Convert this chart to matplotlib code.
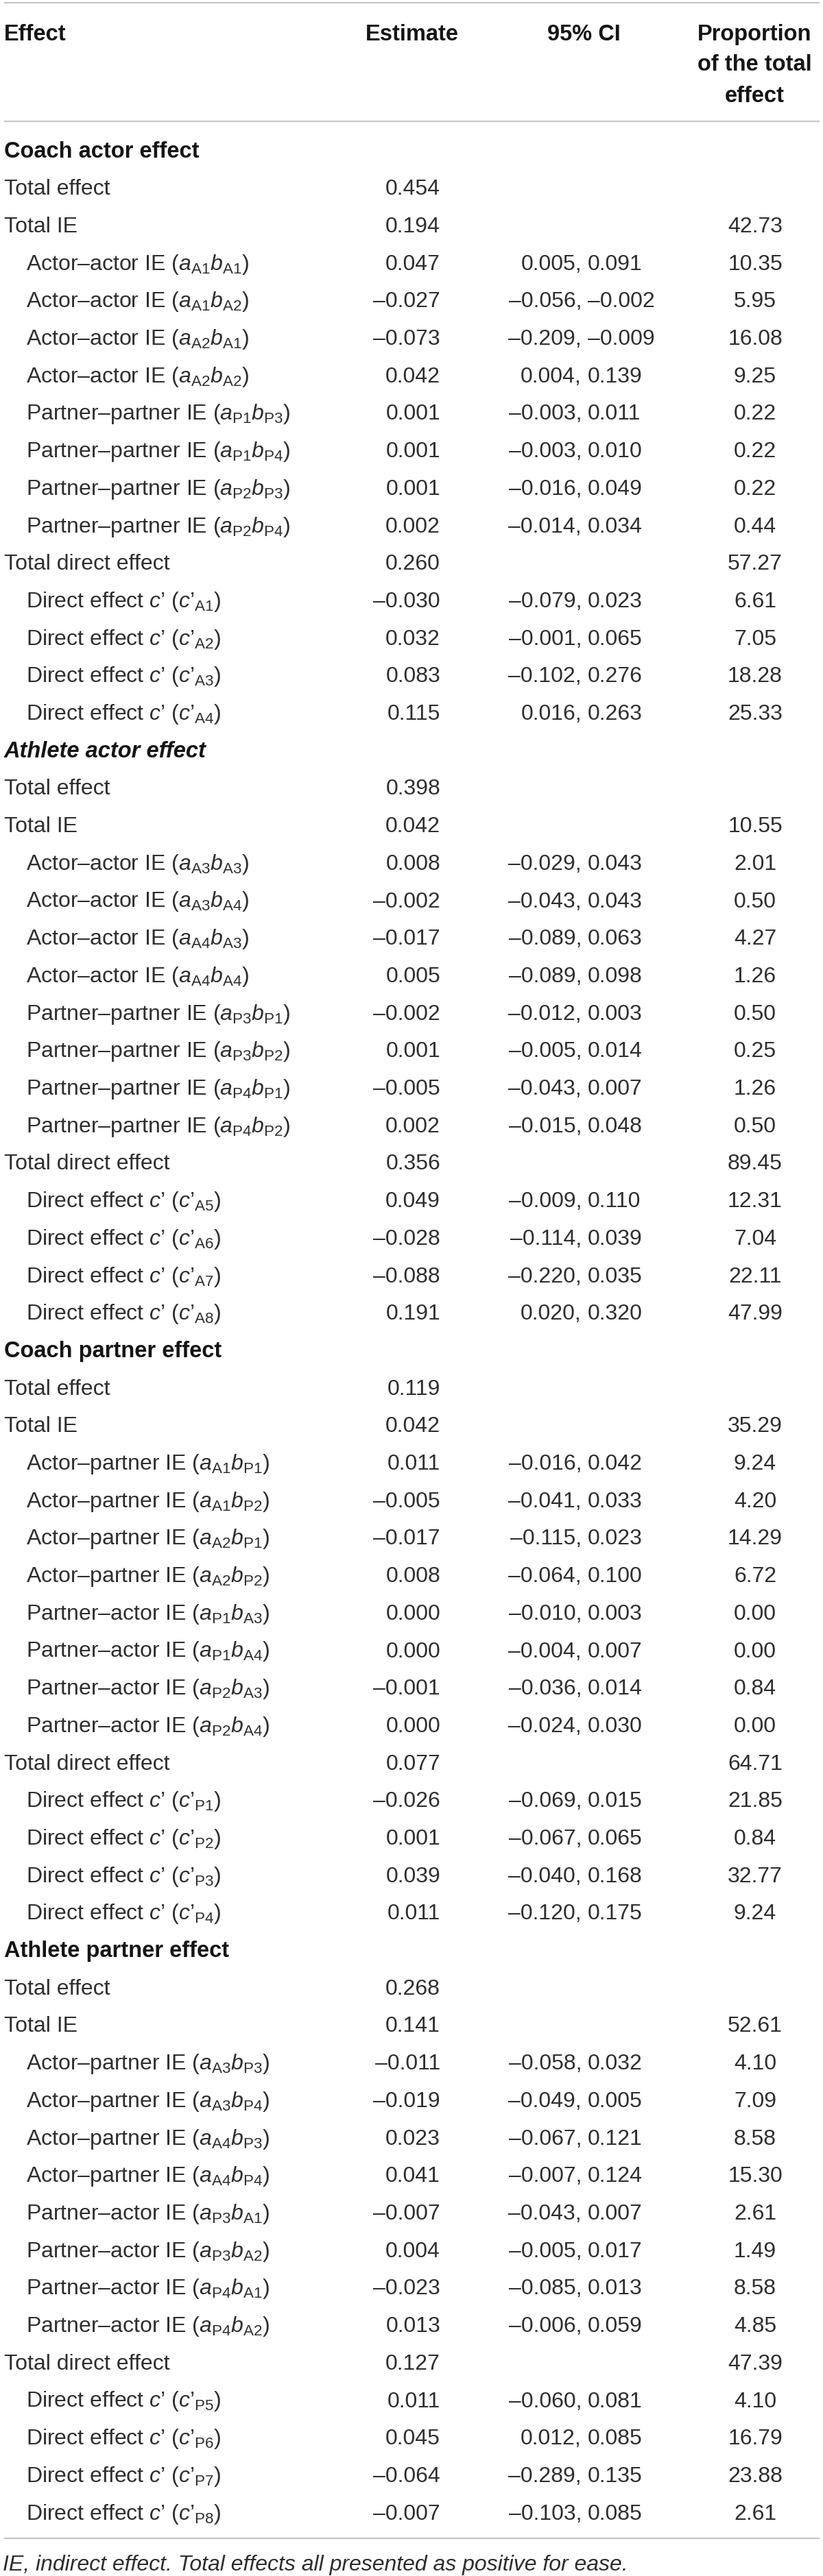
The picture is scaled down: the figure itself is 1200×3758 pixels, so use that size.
import matplotlib
matplotlib.use("Agg")
import matplotlib.pyplot as plt

# ---------------- data ----------------
sections = ["Coach actor effect", "Athlete actor effect",
            "Coach partner effect", "Athlete partner effect"]
section_italic = [False, True, False, False]

total_effect = [0.454, 0.398, 0.119, 0.268]
total_ie = [0.194, 0.042, 0.042, 0.141]
total_ie_prop = [42.73, 10.55, 35.29, 52.61]
total_direct = [0.260, 0.356, 0.077, 0.127]
total_direct_prop = [57.27, 89.45, 64.71, 47.39]

# indirect effects per section
ie_type = [
    ["Actor–actor", "Actor–actor", "Actor–actor", "Actor–actor",
     "Partner–partner", "Partner–partner", "Partner–partner", "Partner–partner"],
    ["Actor–actor", "Actor–actor", "Actor–actor", "Actor–actor",
     "Partner–partner", "Partner–partner", "Partner–partner", "Partner–partner"],
    ["Actor–partner", "Actor–partner", "Actor–partner", "Actor–partner",
     "Partner–actor", "Partner–actor", "Partner–actor", "Partner–actor"],
    ["Actor–partner", "Actor–partner", "Actor–partner", "Actor–partner",
     "Partner–actor", "Partner–actor", "Partner–actor", "Partner–actor"],
]
ie_a = [
    ["A1", "A1", "A2", "A2", "P1", "P1", "P2", "P2"],
    ["A3", "A3", "A4", "A4", "P3", "P3", "P4", "P4"],
    ["A1", "A1", "A2", "A2", "P1", "P1", "P2", "P2"],
    ["A3", "A3", "A4", "A4", "P3", "P3", "P4", "P4"],
]
ie_b = [
    ["A1", "A2", "A1", "A2", "P3", "P4", "P3", "P4"],
    ["A3", "A4", "A3", "A4", "P1", "P2", "P1", "P2"],
    ["P1", "P2", "P1", "P2", "A3", "A4", "A3", "A4"],
    ["P3", "P4", "P3", "P4", "A1", "A2", "A1", "A2"],
]
ie_est = [
    [0.047, -0.027, -0.073, 0.042, 0.001, 0.001, 0.001, 0.002],
    [0.008, -0.002, -0.017, 0.005, -0.002, 0.001, -0.005, 0.002],
    [0.011, -0.005, -0.017, 0.008, 0.000, 0.000, -0.001, 0.000],
    [-0.011, -0.019, 0.023, 0.041, -0.007, 0.004, -0.023, 0.013],
]
ie_lo = [
    [0.005, -0.056, -0.209, 0.004, -0.003, -0.003, -0.016, -0.014],
    [-0.029, -0.043, -0.089, -0.089, -0.012, -0.005, -0.043, -0.015],
    [-0.016, -0.041, -0.115, -0.064, -0.010, -0.004, -0.036, -0.024],
    [-0.058, -0.049, -0.067, -0.007, -0.043, -0.005, -0.085, -0.006],
]
ie_hi = [
    [0.091, -0.002, -0.009, 0.139, 0.011, 0.010, 0.049, 0.034],
    [0.043, 0.043, 0.063, 0.098, 0.003, 0.014, 0.007, 0.048],
    [0.042, 0.033, 0.023, 0.100, 0.003, 0.007, 0.014, 0.030],
    [0.032, 0.005, 0.121, 0.124, 0.007, 0.017, 0.013, 0.059],
]
ie_prop = [
    [10.35, 5.95, 16.08, 9.25, 0.22, 0.22, 0.22, 0.44],
    [2.01, 0.50, 4.27, 1.26, 0.50, 0.25, 1.26, 0.50],
    [9.24, 4.20, 14.29, 6.72, 0.00, 0.00, 0.84, 0.00],
    [4.10, 7.09, 8.58, 15.30, 2.61, 1.49, 8.58, 4.85],
]

# direct effects per section
de_sub = [
    ["A1", "A2", "A3", "A4"],
    ["A5", "A6", "A7", "A8"],
    ["P1", "P2", "P3", "P4"],
    ["P5", "P6", "P7", "P8"],
]
de_est = [
    [-0.030, 0.032, 0.083, 0.115],
    [0.049, -0.028, -0.088, 0.191],
    [-0.026, 0.001, 0.039, 0.011],
    [0.011, 0.045, -0.064, -0.007],
]
de_lo = [
    [-0.079, -0.001, -0.102, 0.016],
    [-0.009, -0.114, -0.220, 0.020],
    [-0.069, -0.067, -0.040, -0.120],
    [-0.060, 0.012, -0.289, -0.103],
]
de_hi = [
    [0.023, 0.065, 0.276, 0.263],
    [0.110, 0.039, 0.035, 0.320],
    [0.015, 0.065, 0.168, 0.175],
    [0.081, 0.085, 0.135, 0.085],
]
de_prop = [
    [6.61, 7.05, 18.28, 25.33],
    [12.31, 7.04, 22.11, 47.99],
    [21.85, 0.84, 32.77, 9.24],
    [4.10, 16.79, 23.88, 2.61],
]

header_cols = ["Effect", "Estimate", "95% CI", "Proportion\nof the total\neffect"]
footnote = "IE, indirect effect. Total effects all presented as positive for ease."

# ---------------- style ----------------
FONT = "Liberation Sans"
plt.rcParams["font.family"] = [FONT, "DejaVu Sans"]
plt.rcParams["mathtext.fontset"] = "custom"
plt.rcParams["mathtext.rm"] = FONT
plt.rcParams["mathtext.it"] = FONT + ":italic"
plt.rcParams["mathtext.bf"] = FONT + ":bold"

TXT = "#2e2e2e"
TXT_B = "#151515"
LINE = "#c6c6c6"
FS = 23
FS_B = 23.5

W, H = 1200, 3758
fig = plt.figure(figsize=(W / 100, H / 100), dpi=100)
ax = fig.add_axes([0, 0, 1, 1])
ax.set_xlim(0, W)
ax.set_ylim(H, 0)
ax.axis("off")

X_LABEL = 6
X_INDENT = 38
X_EST = 642
X_COMMA = 848
X_PROP = 1101

ROW0 = 218
ROW_H = 54.7
BASE = 11.5  # center -> baseline offset


def fmt(v, nd=3):
    s = f"{v:.{nd}f}"
    return s.replace("-", "–")


def put_row(i, label, est=None, lo=None, hi=None, prop=None, indent=False,
            bold=False, italic=False):
    y = ROW0 + i * ROW_H + BASE
    ax.text(X_INDENT if indent else X_LABEL, y, label, ha="left", va="baseline",
            fontsize=FS_B if bold else FS, color=TXT_B if bold else TXT,
            fontweight="bold" if bold else "normal",
            fontstyle="italic" if italic else "normal")
    if est is not None:
        ax.text(X_EST, y, fmt(est), ha="right", va="baseline", fontsize=FS, color=TXT)
    if lo is not None:
        ax.text(X_COMMA, y, fmt(lo) + ",", ha="right", va="baseline", fontsize=FS, color=TXT)
        ax.text(X_COMMA + 9, y, fmt(hi), ha="left", va="baseline", fontsize=FS, color=TXT)
    if prop is not None:
        ax.text(X_PROP, y, fmt(prop, 2), ha="center", va="baseline", fontsize=FS, color=TXT)


# header
hy = [47 + BASE, 91 + BASE, 137 + BASE]
ax.text(X_LABEL, hy[0], header_cols[0], ha="left", va="baseline",
        fontsize=FS_B, fontweight="bold", color=TXT_B)
ax.text(601, hy[0], header_cols[1], ha="center", va="baseline",
        fontsize=FS_B, fontweight="bold", color=TXT_B)
ax.text(851, hy[0], header_cols[2], ha="center", va="baseline",
        fontsize=FS_B, fontweight="bold", color=TXT_B)
for k, part in enumerate(header_cols[3].split("\n")):
    ax.text(1100, hy[k], part, ha="center", va="baseline",
            fontsize=FS_B, fontweight="bold", color=TXT_B)

# rules
for yl in (4, 177, 3703):
    ax.plot([6, 1195], [yl, yl], color=LINE, lw=1.6, solid_capstyle="butt")

# body
r = 0
for s in range(len(sections)):
    put_row(r, sections[s], bold=True, italic=section_italic[s]); r += 1
    put_row(r, "Total effect", est=total_effect[s]); r += 1
    put_row(r, "Total IE", est=total_ie[s], prop=total_ie_prop[s]); r += 1
    for j in range(len(ie_est[s])):
        lab = (f"{ie_type[s][j]} IE ($a_{{\\mathrm{{{ie_a[s][j]}}}}}"
               f"b_{{\\mathrm{{{ie_b[s][j]}}}}}$)")
        put_row(r, lab, est=ie_est[s][j], lo=ie_lo[s][j], hi=ie_hi[s][j],
                prop=ie_prop[s][j], indent=True)
        r += 1
    put_row(r, "Total direct effect", est=total_direct[s], prop=total_direct_prop[s]); r += 1
    for j in range(len(de_est[s])):
        lab = f"Direct effect $c$’ ($c$’$_{{\\mathrm{{{de_sub[s][j]}}}}}$)"
        put_row(r, lab, est=de_est[s][j], lo=de_lo[s][j], hi=de_hi[s][j],
                prop=de_prop[s][j], indent=True)
        r += 1

ax.text(4, 3740 + 10, footnote, ha="left", va="baseline", fontsize=23,
        fontstyle="italic", color=TXT)

fig.savefig("out.png", dpi=100)
